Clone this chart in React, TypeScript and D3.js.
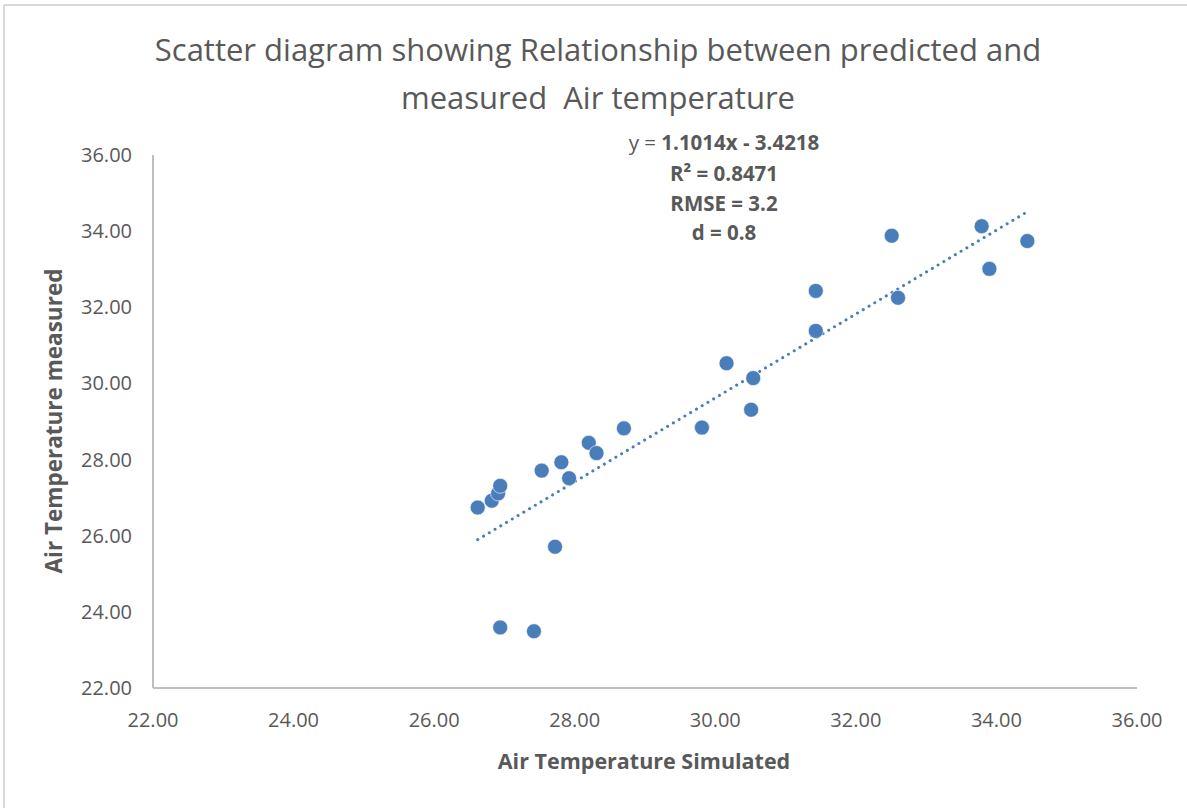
import React from "react";
import * as d3 from "d3";

const simulated = [26.62, 26.82, 26.91, 26.94, 27.53, 27.81, 27.92, 28.2, 28.31, 28.7, 27.72, 26.94, 27.42, 29.81, 30.16, 30.54, 30.51, 31.43, 31.43, 32.51, 32.6, 33.79, 33.9, 34.44];
const measured = [26.74, 26.92, 27.11, 27.31, 27.71, 27.93, 27.51, 28.44, 28.17, 28.82, 25.71, 23.59, 23.49, 28.84, 30.53, 30.14, 29.31, 32.43, 31.38, 33.88, 32.25, 34.13, 33.01, 33.74];
const xTicks = [22, 24, 26, 28, 30, 32, 34, 36];
const yTicks = [22, 24, 26, 28, 30, 32, 34, 36];
const slope = 1.1014;
const intercept = -3.4218;
const titleLines = ["Scatter diagram showing Relationship between predicted and", "measured  Air temperature"];
const statLines = ["R\u00b2 = 0.8471", "RMSE = 3.2", "d = 0.8"];

const W = 1187;
const H = 808;
const FONT = "'Open Sans', 'Noto Sans', sans-serif";
const GREY = "#595959";
const BLUE = "#4a7ebb";

export default function App() {
  const x = d3.scaleLinear().domain([22, 36]).range([153, 1137]);
  const y = d3.scaleLinear().domain([22, 36]).range([688, 155]);
  const xMin = d3.min(simulated) as number;
  const xMax = d3.max(simulated) as number;
  const trend = d3
    .line<number>()
    .x((d) => x(d))
    .y((d) => y(slope * d + intercept))([xMin, xMax]);

  return (
    <svg width={W} height={H} style={{ position: "absolute", left: 0, top: 0, background: "#fff" }} fontFamily={FONT}>
      <rect x={0} y={0} width={W} height={H} fill="#fff" />
      <line x1={4} y1={5} x2={W} y2={5} stroke="#d9d9d9" strokeWidth={2} />
      <line x1={4} y1={5} x2={4} y2={H} stroke="#d9d9d9" strokeWidth={2} />

      {titleLines.map((t, i) => (
        <text key={i} x={598} y={61 + i * 48} textAnchor="middle" fontSize={31} fill={GREY} style={{ whiteSpace: "pre" }}>
          {t}
        </text>
      ))}

      <line x1={x(22)} y1={y(36)} x2={x(22)} y2={y(22)} stroke="#bfbfbf" strokeWidth={2} />
      <line x1={x(22)} y1={y(22)} x2={x(36)} y2={y(22)} stroke="#bfbfbf" strokeWidth={2} />

      {xTicks.map((t) => (
        <text key={"x" + t} x={x(t)} y={727} textAnchor="middle" fontSize={20} fill={GREY}>
          {t.toFixed(2)}
        </text>
      ))}
      {yTicks.map((t) => (
        <text key={"y" + t} x={132} y={y(t) + 7} textAnchor="end" fontSize={20} fill={GREY}>
          {t.toFixed(2)}
        </text>
      ))}

      <text x={644} y={769} textAnchor="middle" fontSize={21.5} fontWeight="bold" fill={GREY}>
        Air Temperature Simulated
      </text>
      <text transform={`translate(62,421) rotate(-90)`} textAnchor="middle" fontSize={22.5} fontWeight="bold" fill={GREY}>
        Air Temperature measured
      </text>

      <path d={trend ?? ""} fill="none" stroke={BLUE} strokeWidth={3} strokeLinecap="round" strokeDasharray="0.1 6.6" />

      {simulated.map((s, i) => (
        <circle key={i} cx={x(s)} cy={y(measured[i])} r={7.5} fill={BLUE} stroke="#fff" strokeWidth={0.6} />
      ))}

      <text x={724} y={150} textAnchor="middle" fontSize={20.5} fill={GREY}>
        <tspan>y = </tspan>
        <tspan fontWeight="bold">{`${slope}x - ${Math.abs(intercept)}`}</tspan>
      </text>
      {statLines.map((t, i) => (
        <text key={i} x={724} y={181 + i * 29.7} textAnchor="middle" fontSize={20.5} fontWeight="bold" fill={GREY}>
          {t}
        </text>
      ))}
    </svg>
  );
}
